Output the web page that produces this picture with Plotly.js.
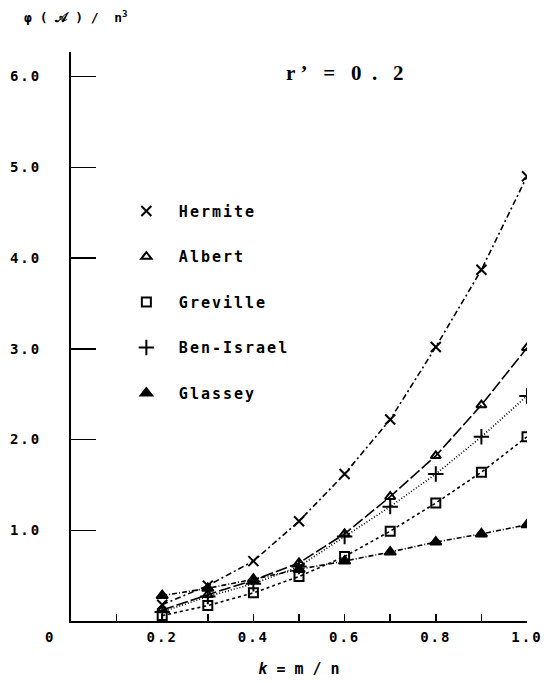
<!DOCTYPE html>
<html>
<head>
<meta charset="utf-8">
<script src="https://cdn.plot.ly/plotly-3.0.1.min.js"></script>
<style>
  html, body { margin: 0; padding: 0; background: #fff; }
  #chart { width: 559px; height: 683px; }
  .xtick text, .ytick text { letter-spacing: 2px; }
  .legendtext { letter-spacing: 2px; }
</style>
</head>
<body>
<div id="chart"></div>
<script>
// ---- data ----
const kValues = [0.2, 0.3, 0.4, 0.5, 0.6, 0.7, 0.8, 0.9, 1.0];
const hermite   = [0.18, 0.39, 0.66, 1.10, 1.62, 2.22, 3.02, 3.87, 4.90];
const albert    = [0.12, 0.29, 0.45, 0.64, 0.96, 1.37, 1.82, 2.38, 3.01];
const greville  = [0.06, 0.17, 0.31, 0.49, 0.71, 0.99, 1.30, 1.64, 2.03];
const benIsrael = [0.10, 0.27, 0.41, 0.60, 0.93, 1.26, 1.62, 2.03, 2.48];
const glassey   = [0.28, 0.36, 0.46, 0.57, 0.66, 0.76, 0.87, 0.96, 1.06];

const seriesNames = ['Hermite', 'Albert', 'Greville', 'Ben-Israel', 'Glassey'];
const seriesData = [hermite, albert, greville, benIsrael, glassey];

const xTickVals = [0, 0.2, 0.4, 0.6, 0.8, 1.0];
const xTickText = ['0\u00a0\u00a0\u00a0\u00a0', '0.2', '0.4', '0.6', '0.8', '1.0'];
const yTickVals = [1, 2, 3, 4, 5, 6];
const yTickText = ['1.0', '2.0', '3.0', '4.0', '5.0', '6.0'];

// ---- styles ----
const symbols = ['x-thin-open', 'triangle-up-open', 'square-open', 'cross-thin-open', 'triangle-up'];
const sizes   = [10, 9, 9, 11, 10];
const dashes  = ['6px,3px,2px,3px', '12px,3px', '3px,3px', '1px,2px', '5px,2px,1px,2px'];

const traces = [];
seriesNames.forEach((name, i) => {
  traces.push({
    x: kValues, y: seriesData[i], mode: 'lines', showlegend: false,
    line: { color: '#000', width: 1.6, dash: dashes[i] },
    hoverinfo: 'skip', legendgroup: 'g' + i
  });
});
seriesNames.forEach((name, i) => {
  traces.push({
    x: kValues, y: seriesData[i], mode: 'markers', name: name,
    legendgroup: 'g' + i,
    marker: { symbol: symbols[i], size: sizes[i], color: '#000',
              line: { color: '#000', width: 2 } }
  });
});

const mono = 'DejaVu Sans Mono, monospace';
const nb = '\u00a0';

const layout = {
  width: 559, height: 683,
  margin: { l: 71, r: 32, t: 52, b: 62 },
  paper_bgcolor: '#fff', plot_bgcolor: '#fff',
  showlegend: true,
  legend: {
    x: 0.094, y: 0.749, xanchor: 'left', yanchor: 'top',
    font: { family: mono, size: 15, color: '#000', weight: 'bold' },
    itemwidth: 55,
    tracegroupgap: 23, traceorder: 'grouped',
    bgcolor: 'rgba(0,0,0,0)', borderwidth: 0
  },
  xaxis: {
    range: [0, 1.0], showgrid: false, zeroline: false,
    showline: true, linecolor: '#000', linewidth: 2,
    ticks: 'inside', ticklen: 7, tickwidth: 1.5, tickcolor: '#000',
    tickmode: 'array', tickvals: xTickVals, ticktext: xTickText,
    minor: { dtick: 0.1, tick0: 0, ticks: 'inside', ticklen: 7, tickwidth: 1.5, tickcolor: '#000', showgrid: false },
    tickfont: { family: mono, size: 14, color: '#000', weight: 'bold' },
    ticklabelstandoff: 2,
    title: { text: '<i>k</i> = m / n', font: { family: mono, size: 15, color: '#000', weight: 'bold' }, standoff: 20 }
  },
  yaxis: {
    range: [0, 6.27], showgrid: false, zeroline: false,
    showline: true, linecolor: '#000', linewidth: 2,
    ticks: 'inside', ticklen: 25, tickwidth: 1.5, tickcolor: '#000',
    tickmode: 'array', tickvals: yTickVals, ticktext: yTickText,
    tickfont: { family: mono, size: 14, color: '#000', weight: 'bold' },
    ticklabelstandoff: 25
  },
  annotations: [
    {
      xref: 'paper', yref: 'paper', x: -0.107, y: 1.062, xanchor: 'left', yanchor: 'middle',
      text: '<b>φ ( 𝒜 ) /  n<sup>3</sup></b>', showarrow: false,
      font: { family: mono, size: 13, color: '#000' }
    },
    {
      xref: 'paper', yref: 'paper', x: 0.6, y: 0.963, xanchor: 'center', yanchor: 'middle',
      text: '<b>r' + nb + '’' + nb + nb + nb + '=' + nb + nb + nb + '0' + nb + nb + '.' + nb + nb + nb + '2</b>', showarrow: false,
      font: { family: 'Liberation Serif, serif', size: 21, color: '#000' }
    }
  ]
};

Plotly.newPlot('chart', traces, layout, { staticPlot: true, displayModeBar: false });
</script>
</body>
</html>
